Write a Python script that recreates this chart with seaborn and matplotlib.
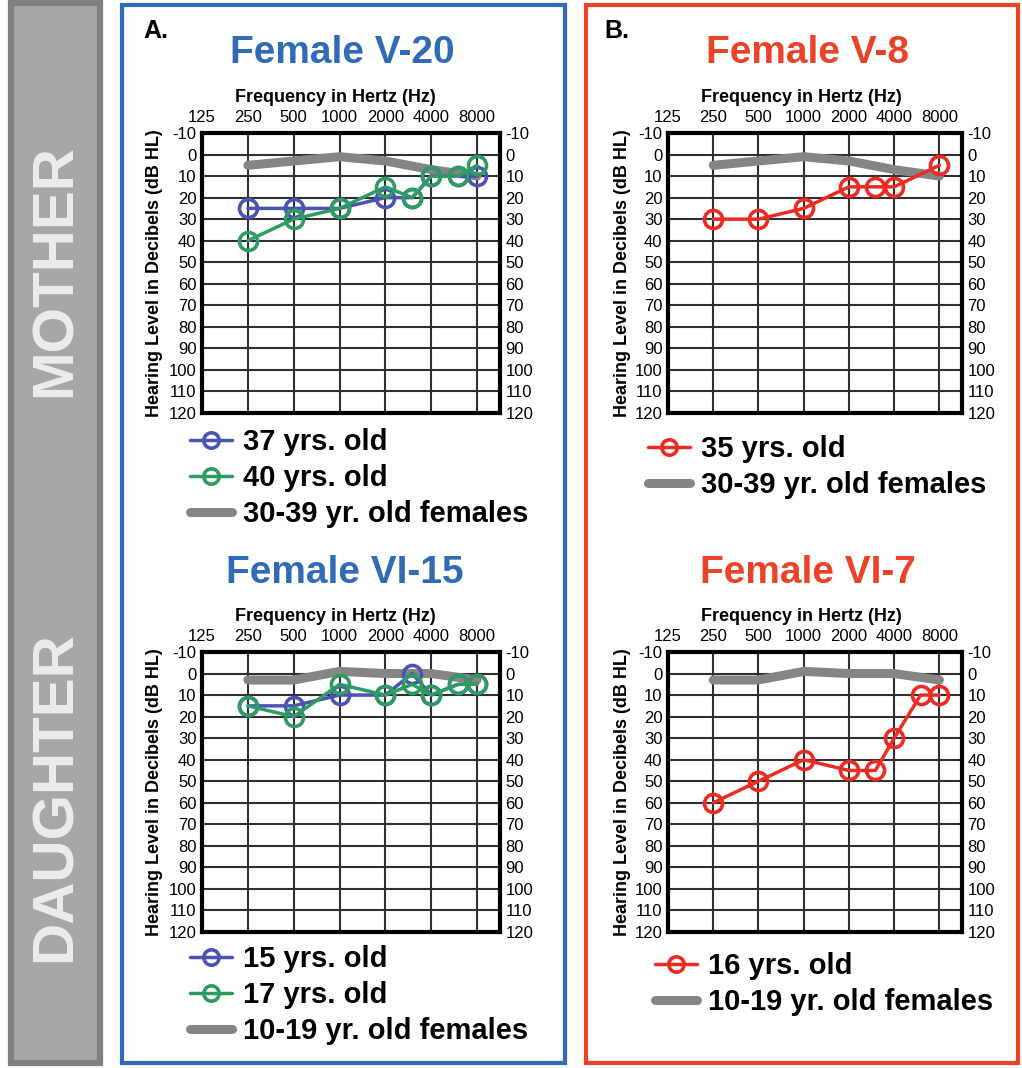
import matplotlib
matplotlib.use('Agg')
import matplotlib.pyplot as plt
import seaborn as sns
from matplotlib.patches import Rectangle
from matplotlib.ticker import FixedLocator, FixedFormatter, NullLocator

# ---------------- data ----------------
freq_ticks = [125, 250, 500, 1000, 2000, 4000, 8000]
freq_tick_labels = ['125', '250', '500', '1000', '2000', '4000', '8000']
db_ticks = list(range(-10, 121, 10))

freqs_full = [250, 500, 1000, 2000, 3000, 4000, 6000, 8000]
freqs_v8 = [250, 500, 1000, 2000, 3000, 4000, 8000]
norm_freqs = [250, 500, 1000, 2000, 4000, 8000]

v20_37 = [25, 25, 25, 20, 20, 10, 10, 10]
v20_40 = [40, 30, 25, 15, 20, 10, 10, 5]
norm_30_39 = [5, 3, 1, 3, 7, 10]

v8_35 = [30, 30, 25, 15, 15, 15, 5]

vi15_15 = [15, 15, 10, 10, 0, 10, 5, 5]
vi15_17 = [15, 20, 5, 10, 5, 10, 5, 5]
norm_10_19 = [3, 3, -1, 0, 0, 3]

vi7_16 = [60, 50, 40, 45, 45, 30, 10, 10]

# ---------------- style ----------------
sns.set_style('white')
plt.rcParams['font.family'] = ['Liberation Sans', 'DejaVu Sans']
plt.rcParams['axes.unicode_minus'] = False
for k in ['text.color', 'axes.labelcolor', 'xtick.color', 'ytick.color']:
    plt.rcParams[k] = 'black'

BLUE = '#4b55b1'
GREEN = '#2f9b63'
RED = '#ee2b23'
GRAY = '#858585'
BOX_BLUE = '#2f6bb6'
BOX_RED = '#ec4328'

W, H = 1022, 1068
fig = plt.figure(figsize=(W / 100, H / 100), dpi=100)


def fx(px):
    return px / W


def fy(py):
    return 1 - py / H


# background panels
fig.patches.append(Rectangle((fx(11), fy(1063)), fx(89), (1060) / H,
                             transform=fig.transFigure, facecolor='#a7a7a7',
                             edgecolor='#808080', linewidth=4.5, zorder=0))
fig.patches.append(Rectangle((fx(122), fy(1063)), fx(443), (1058) / H,
                             transform=fig.transFigure, facecolor='none',
                             edgecolor=BOX_BLUE, linewidth=3, zorder=0))
fig.patches.append(Rectangle((fx(586), fy(1063)), fx(432), (1058) / H,
                             transform=fig.transFigure, facecolor='none',
                             edgecolor=BOX_RED, linewidth=3, zorder=0))

fig.text(fx(56), fy(270), 'MOTHER', rotation=90, ha='center', va='center',
         fontsize=42, fontweight='bold', color='#ececec')
fig.text(fx(56), fy(797), 'DAUGHTER', rotation=90, ha='center', va='center',
         fontsize=42, fontweight='bold', color='#ececec')

fig.text(fx(143), fy(31), 'A.', ha='left', va='center', fontsize=18, fontweight='bold')
fig.text(fx(604), fy(31), 'B.', ha='left', va='center', fontsize=18, fontweight='bold')

titles = [
    ('Female V-20', 342, 53, BOX_BLUE),
    ('Female V-8', 808, 53, BOX_RED),
    ('Female VI-15', 345, 573, BOX_BLUE),
    ('Female VI-7', 808, 573, BOX_RED),
]
for t, x, y, c in titles:
    fig.text(fx(x), fy(y), t, ha='center', va='center', fontsize=28,
             fontweight='bold', color=c)


def make_axes(left, right, top, bottom):
    ax = fig.add_axes([fx(left), fy(bottom), (right - left) / W, (bottom - top) / H])
    return ax


def style_axes(ax, xlab_x, ylab_x):
    ax.set_xscale('log', base=2)
    ax.set_xlim(125, 8000 * 2 ** 0.5)
    ax.set_ylim(120, -10)
    ax.xaxis.set_major_locator(FixedLocator(freq_ticks))
    ax.xaxis.set_major_formatter(FixedFormatter(freq_tick_labels))
    ax.xaxis.set_minor_locator(NullLocator())
    ax.yaxis.set_major_locator(FixedLocator(db_ticks))
    ax.yaxis.set_major_formatter(FixedFormatter([str(v) for v in db_ticks]))
    ax.xaxis.tick_top()
    ax.xaxis.set_label_position('top')
    ax.tick_params(axis='x', which='both', length=0, pad=6, labelsize=12,
                   labelcolor='black')
    ax.tick_params(axis='y', which='both', length=0, pad=4, labelsize=12,
                   labelleft=True, labelright=True, labelcolor='black')
    ax.grid(True, color='#303030', linewidth=1.5)
    ax.set_axisbelow(True)
    for s in ax.spines.values():
        s.set_linewidth(3)
        s.set_color('black')
        s.set_zorder(5)
    ax.set_xlabel('Frequency in Hertz (Hz)', fontsize=13, fontweight='bold', color='black')
    ax.xaxis.set_label_coords(xlab_x, 1.11)
    ax.set_ylabel('Hearing Level in Decibels (dB HL)', fontsize=13, fontweight='bold',
                  color='black')
    ax.yaxis.set_label_coords(ylab_x, 0.5)


def draw_norm(ax, vals, label):
    sns.lineplot(x=norm_freqs, y=vals, ax=ax, color=GRAY, linewidth=6.5,
                 solid_capstyle='round', label=label, zorder=2, sort=False)


def draw_series(ax, xs, vals, color, label):
    sns.lineplot(x=xs, y=vals, ax=ax, color=color, linewidth=2.5, marker='o',
                 markersize=13, markerfacecolor='none', markeredgecolor=color,
                 markeredgewidth=2.6, label=label, zorder=3, sort=False)


def make_legend(ax, x, y):
    handles, labels = ax.get_legend_handles_labels()
    handles = handles[1:] + handles[:1]
    labels = labels[1:] + labels[:1]
    leg = ax.legend(handles, labels, loc='upper left', bbox_to_anchor=(fx(x), fy(y)),
                    bbox_transform=fig.transFigure, frameon=False, borderpad=0,
                    borderaxespad=0, handlelength=1.45, handletextpad=0.38,
                    labelspacing=0.28, markerscale=0.85,
                    prop={'weight': 'bold', 'size': 21})
    for t in leg.get_texts():
        t.set_color('black')
    return leg


# Panel A top
ax1 = make_axes(202, 500, 133, 413)
style_axes(ax1, 0.446, -0.13)
draw_norm(ax1, norm_30_39, '30-39 yr. old females')
draw_series(ax1, freqs_full, v20_37, BLUE, '37 yrs. old')
draw_series(ax1, freqs_full, v20_40, GREEN, '40 yrs. old')
make_legend(ax1, 190, 428)

# Panel B top
ax2 = make_axes(668, 962, 133, 413)
style_axes(ax2, 0.452, -0.125)
draw_norm(ax2, norm_30_39, '30-39 yr. old females')
draw_series(ax2, freqs_v8, v8_35, RED, '35 yrs. old')
make_legend(ax2, 648, 435)

# Panel A bottom
ax3 = make_axes(202, 500, 652, 932)
style_axes(ax3, 0.446, -0.13)
draw_norm(ax3, norm_10_19, '10-19 yr. old females')
draw_series(ax3, freqs_full, vi15_15, BLUE, '15 yrs. old')
draw_series(ax3, freqs_full, vi15_17, GREEN, '17 yrs. old')
make_legend(ax3, 190, 945)

# Panel B bottom
ax4 = make_axes(668, 962, 652, 932)
style_axes(ax4, 0.452, -0.125)
draw_norm(ax4, norm_10_19, '10-19 yr. old females')
draw_series(ax4, freqs_full, vi7_16, RED, '16 yrs. old')
make_legend(ax4, 655, 952)

fig.savefig('out.png', dpi=100)
